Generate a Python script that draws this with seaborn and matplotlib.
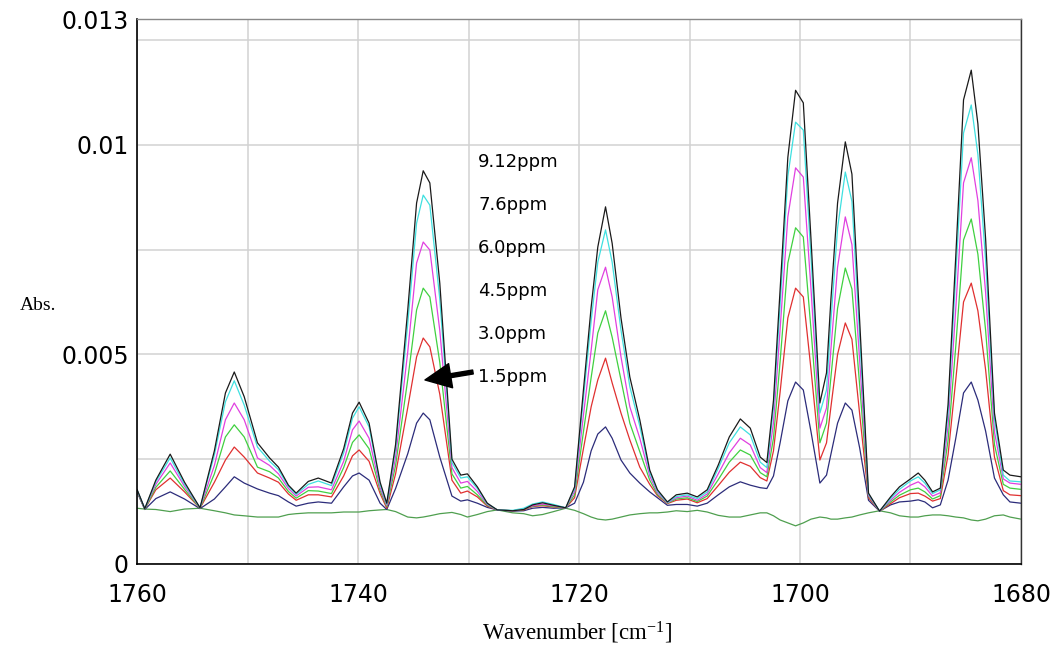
import numpy as np
import pandas as pd
import seaborn as sns
import matplotlib
matplotlib.use("Agg")
import matplotlib.pyplot as plt

wavenumber = [
    1760.0, 1759.3, 1758.3, 1757.0, 1755.7, 1754.3, 1753.0, 1752.0, 1751.2, 1750.3,
    1749.1, 1748.0, 1747.2, 1746.3, 1745.6, 1744.5, 1743.6, 1742.4, 1741.3, 1740.5,
    1739.9, 1739.0, 1738.0, 1737.4, 1736.6, 1735.5, 1734.7, 1734.1, 1733.5, 1732.6,
    1731.5, 1730.7, 1730.1, 1729.2, 1728.3, 1727.4, 1726.0, 1725.0, 1724.2, 1723.3,
    1722.3, 1721.2, 1720.4, 1719.6, 1718.9, 1718.3, 1717.6, 1717.0, 1716.2, 1715.4,
    1714.5, 1713.6, 1712.9, 1712.0, 1711.2, 1710.2, 1709.3, 1708.4, 1707.4, 1706.4,
    1705.4, 1704.5, 1703.6, 1703.0, 1702.4, 1701.8, 1701.1, 1700.4, 1699.7, 1699.0,
    1698.2, 1697.6, 1697.2, 1696.6, 1695.9, 1695.3, 1694.6, 1693.8, 1692.8, 1691.8,
    1691.0, 1690.0, 1689.3, 1688.7, 1688.0, 1687.3, 1686.6, 1685.9, 1685.2, 1684.5,
    1683.9, 1683.2, 1682.4, 1681.6, 1681.0, 1680.0,
]

# absorbance in units of 1e-3
abs_912 = [
    1.78, 1.32, 2.00, 2.62, 1.95, 1.34, 2.70, 4.08, 4.58, 3.99,
    2.89, 2.53, 2.31, 1.88, 1.69, 1.97, 2.05, 1.93, 2.75, 3.60,
    3.86, 3.36, 1.95, 1.45, 2.85, 6.06, 8.61, 9.38, 9.09, 6.70,
    2.50, 2.12, 2.15, 1.84, 1.45, 1.29, 1.27, 1.30, 1.41, 1.46,
    1.40, 1.34, 1.84, 4.15, 6.13, 7.56, 8.52, 7.65, 5.87, 4.46,
    3.44, 2.24, 1.77, 1.48, 1.65, 1.69, 1.60, 1.77, 2.36, 3.03,
    3.46, 3.24, 2.55, 2.42, 3.90, 6.54, 9.70, 11.30, 11.00, 7.73,
    3.84, 4.56, 6.32, 8.61, 10.07, 9.30, 5.80, 1.69, 1.26, 1.60,
    1.84, 2.03, 2.17, 2.00, 1.72, 1.81, 3.80, 7.35, 11.07, 11.78,
    10.50, 7.75, 3.60, 2.24, 2.12, 2.08,
]
abs_76 = [
    1.77, 1.32, 1.96, 2.53, 1.90, 1.34, 2.60, 3.87, 4.37, 3.79,
    2.79, 2.45, 2.25, 1.85, 1.66, 1.90, 1.98, 1.87, 2.65, 3.48,
    3.75, 3.27, 1.90, 1.43, 2.75, 5.73, 8.13, 8.80, 8.56, 6.32,
    2.42, 2.05, 2.08, 1.80, 1.44, 1.29, 1.28, 1.33, 1.43, 1.48,
    1.42, 1.34, 1.80, 3.95, 5.80, 7.20, 7.97, 7.20, 5.58, 4.23,
    3.29, 2.18, 1.74, 1.47, 1.61, 1.65, 1.56, 1.72, 2.28, 2.89,
    3.27, 3.08, 2.43, 2.30, 3.73, 6.17, 9.25, 10.54, 10.35, 7.30,
    3.60, 4.15, 5.80, 8.01, 9.35, 8.65, 5.43, 1.67, 1.26, 1.56,
    1.78, 1.98, 2.08, 1.93, 1.68, 1.77, 3.60, 6.90, 10.28, 10.95,
    9.77, 7.24, 3.45, 2.12, 1.98, 1.96,
]
abs_60 = [
    1.76, 1.32, 1.90, 2.41, 1.85, 1.34, 2.35, 3.44, 3.84, 3.44,
    2.53, 2.35, 2.15, 1.80, 1.62, 1.83, 1.84, 1.77, 2.45, 3.20,
    3.41, 3.00, 1.82, 1.40, 2.55, 5.06, 7.18, 7.68, 7.49, 5.57,
    2.30, 1.93, 1.97, 1.73, 1.42, 1.29, 1.27, 1.31, 1.39, 1.43,
    1.39, 1.34, 1.73, 3.55, 5.10, 6.54, 7.08, 6.37, 4.94, 3.75,
    3.00, 2.10, 1.70, 1.46, 1.58, 1.62, 1.52, 1.67, 2.15, 2.65,
    3.00, 2.84, 2.30, 2.18, 3.37, 5.60, 8.28, 9.45, 9.23, 6.54,
    3.24, 3.72, 5.13, 7.08, 8.28, 7.62, 4.85, 1.64, 1.26, 1.52,
    1.71, 1.88, 1.96, 1.84, 1.62, 1.70, 3.30, 6.10, 9.09, 9.69,
    8.67, 6.47, 3.15, 2.03, 1.93, 1.90,
]
abs_45 = [
    1.75, 1.31, 1.83, 2.22, 1.78, 1.33, 2.15, 3.03, 3.32, 3.03,
    2.31, 2.20, 2.05, 1.73, 1.57, 1.75, 1.74, 1.68, 2.30, 2.90,
    3.08, 2.75, 1.75, 1.37, 2.35, 4.40, 6.06, 6.58, 6.37, 4.81,
    2.15, 1.81, 1.85, 1.65, 1.40, 1.29, 1.27, 1.30, 1.38, 1.41,
    1.37, 1.34, 1.65, 3.15, 4.45, 5.51, 6.04, 5.41, 4.39, 3.36,
    2.68, 2.00, 1.66, 1.45, 1.55, 1.58, 1.49, 1.62, 2.01, 2.43,
    2.72, 2.60, 2.18, 2.08, 3.00, 4.83, 7.18, 8.02, 7.80, 5.58,
    2.89, 3.36, 4.46, 6.10, 7.06, 6.56, 4.26, 1.62, 1.26, 1.48,
    1.64, 1.77, 1.81, 1.72, 1.55, 1.63, 2.95, 5.20, 7.73, 8.23,
    7.39, 5.57, 2.85, 1.90, 1.81, 1.78,
]
abs_30 = [
    1.74, 1.31, 1.77, 2.05, 1.72, 1.33, 1.95, 2.48, 2.79, 2.55,
    2.17, 2.05, 1.95, 1.67, 1.52, 1.65, 1.65, 1.60, 2.10, 2.58,
    2.72, 2.45, 1.68, 1.33, 2.15, 3.73, 4.94, 5.39, 5.18, 4.05,
    2.00, 1.69, 1.74, 1.60, 1.38, 1.29, 1.27, 1.29, 1.37, 1.39,
    1.36, 1.34, 1.58, 2.75, 3.75, 4.39, 4.91, 4.32, 3.60, 2.96,
    2.31, 1.90, 1.63, 1.44, 1.52, 1.55, 1.46, 1.56, 1.87, 2.19,
    2.43, 2.33, 2.06, 1.98, 2.70, 4.10, 5.87, 6.58, 6.37, 4.63,
    2.48, 2.89, 3.75, 5.00, 5.75, 5.36, 3.58, 1.58, 1.26, 1.44,
    1.58, 1.68, 1.69, 1.62, 1.50, 1.56, 2.60, 4.40, 6.25, 6.70,
    6.04, 4.63, 2.55, 1.75, 1.65, 1.63,
]
abs_15 = [
    1.72, 1.30, 1.56, 1.72, 1.55, 1.32, 1.55, 1.84, 2.08, 1.93,
    1.79, 1.69, 1.63, 1.48, 1.38, 1.45, 1.48, 1.45, 1.84, 2.10,
    2.17, 2.00, 1.45, 1.30, 1.80, 2.63, 3.36, 3.60, 3.44, 2.55,
    1.62, 1.50, 1.53, 1.45, 1.35, 1.29, 1.26, 1.27, 1.33, 1.35,
    1.33, 1.34, 1.45, 1.95, 2.70, 3.10, 3.27, 3.00, 2.48, 2.17,
    1.93, 1.72, 1.58, 1.40, 1.42, 1.42, 1.38, 1.45, 1.65, 1.84,
    1.96, 1.88, 1.82, 1.80, 2.10, 2.89, 3.89, 4.34, 4.15, 3.15,
    1.93, 2.12, 2.62, 3.36, 3.84, 3.67, 2.77, 1.52, 1.26, 1.41,
    1.48, 1.50, 1.53, 1.48, 1.34, 1.41, 2.00, 3.00, 4.08, 4.34,
    3.91, 3.17, 2.05, 1.65, 1.48, 1.45,
]
abs_0 = [
    1.33, 1.31, 1.30, 1.25, 1.31, 1.33, 1.27, 1.22, 1.17, 1.15,
    1.12, 1.12, 1.12, 1.18, 1.20, 1.22, 1.22, 1.22, 1.24, 1.24,
    1.24, 1.27, 1.29, 1.30, 1.25, 1.12, 1.10, 1.12, 1.15, 1.20,
    1.23, 1.18, 1.12, 1.18, 1.25, 1.29, 1.22, 1.20, 1.15, 1.18,
    1.25, 1.33, 1.28, 1.20, 1.12, 1.07, 1.05, 1.07, 1.12, 1.17,
    1.20, 1.22, 1.22, 1.24, 1.27, 1.25, 1.28, 1.24, 1.16, 1.12,
    1.12, 1.17, 1.22, 1.22, 1.15, 1.05, 0.98, 0.91, 0.98, 1.07,
    1.12, 1.10, 1.07, 1.07, 1.10, 1.12, 1.17, 1.22, 1.27, 1.22,
    1.15, 1.12, 1.12, 1.15, 1.17, 1.17, 1.15, 1.12, 1.10, 1.05,
    1.03, 1.07, 1.15, 1.17, 1.12, 1.07,
]

series_names = ["0ppm", "1.5ppm", "3.0ppm", "4.5ppm", "6.0ppm", "7.6ppm", "9.12ppm"]
series_values = [abs_0, abs_15, abs_30, abs_45, abs_60, abs_76, abs_912]
series_colors = ["#4f9f4f", "#2c2c7a", "#e03030", "#40d040", "#e040e0", "#3fe0e0", "#1a1a1a"]

label_texts = ["9.12ppm", "7.6ppm", "6.0ppm", "4.5ppm", "3.0ppm", "1.5ppm"]

frames = []
for name, vals in zip(series_names, series_values):
    frames.append(pd.DataFrame({
        "wavenumber": wavenumber,
        "absorbance": np.array(vals) * 1e-3,
        "series": name,
    }))
df = pd.concat(frames, ignore_index=True)

sns.set_style("white")
plt.rcParams["font.family"] = ["DejaVu Sans"]
plt.rcParams["text.color"] = "black"
plt.rcParams["mathtext.fontset"] = "custom"
plt.rcParams["mathtext.rm"] = "Liberation Serif"
plt.rcParams["mathtext.it"] = "Liberation Serif:italic"

fig = plt.figure(figsize=(10.59, 6.47), dpi=100)
ax = fig.add_axes([0.1294, 0.1283, 0.8347, 0.8423])

sns.lineplot(data=df, x="wavenumber", y="absorbance", hue="series",
             hue_order=series_names, palette=series_colors,
             estimator=None, linewidth=0.9, legend=False, ax=ax)

ax.set_xlim(1760, 1680)
ax.set_ylim(0, 0.013)

ax.set_xticks([1760, 1740, 1720, 1700, 1680])
ax.set_xticks([1750, 1730, 1710, 1690], minor=True)
ax.set_yticks([0, 0.005, 0.01, 0.013])
ax.set_yticklabels(["0", "0.005", "0.01", "0.013"])
ax.set_yticks([0.0025, 0.0075, 0.0125], minor=True)

ax.grid(which="both", color="#d2d2d2", linewidth=1.1)
ax.set_axisbelow(True)

ax.tick_params(which="both", direction="in", color="#444444", width=1.0,
               top=False, right=False, labelcolor="black")
ax.tick_params(which="major", length=13, labelsize=17)
ax.tick_params(which="minor", length=7)
ax.tick_params(axis="x", which="major", pad=14)
ax.tick_params(axis="y", which="major", pad=6)

for side in ["left", "bottom"]:
    ax.spines[side].set_color("black")
    ax.spines[side].set_linewidth(1.2)
ax.spines["top"].set_color("#888888")
ax.spines["right"].set_color("#333333")
ax.spines["top"].set_linewidth(1.0)
ax.spines["right"].set_linewidth(1.0)

ax.set_xlabel("")
ax.set_ylabel("")

fig.text(0.036, 1 - 306 / 647, "Abs.", family="Liberation Serif", fontsize=14,
         ha="center", va="center", color="black")
fig.text(0.545, 1 - 633 / 647, "Wavenumber [cm$^{-1}$]", family="Liberation Serif",
         fontsize=16.5, ha="center", va="center", color="black")

label_y = [0.00948, 0.00845, 0.00742, 0.00639, 0.00537, 0.00434]
for txt, y in zip(label_texts, label_y):
    ax.text(1729.14, y, txt, fontsize=13, va="baseline", ha="left", color="black")

ax.annotate("", xy=(1733.94, 0.00439), xytext=(1729.6, 0.00458),
            arrowprops=dict(arrowstyle="simple,head_length=0.85,head_width=0.8,tail_width=0.13",
                            color="black", mutation_scale=22, shrinkA=0, shrinkB=0))

fig.savefig("out.png", dpi=100)
